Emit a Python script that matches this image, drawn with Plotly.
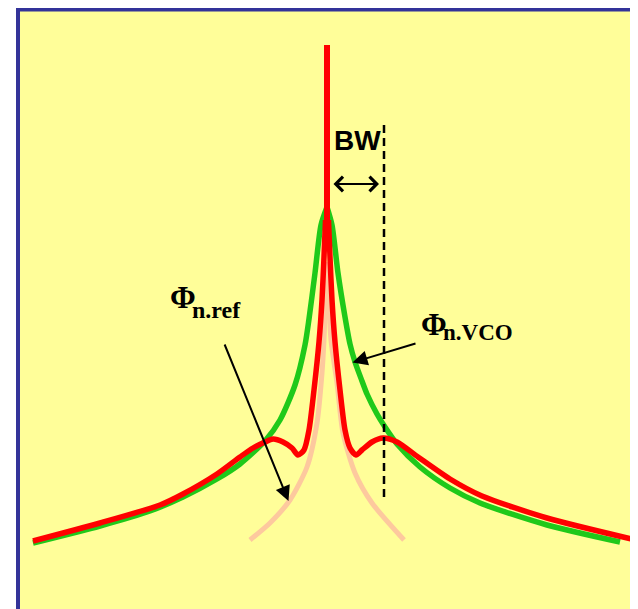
import plotly.graph_objects as go

# ---- data (offset from carrier, noise level) ----
green_left_offset = [-294, -227, -177, -144, -110, -87, -62, -47, -32, -22, -18, -12, -6, 0]
green_left_level = [66, 83, 98, 112, 130, 145, 168, 189, 224, 264, 290, 336, 384, 402]
green_right_offset = [0, 5, 11, 18, 23, 28, 35, 40, 50, 58, 70, 93, 123, 153, 220, 293]
green_right_level = [402, 384, 336, 292, 265, 247, 228, 215, 195, 182, 165, 142, 121, 106, 84, 67]

red_left_offset = [-294, -227, -167, -144, -110, -87, -74, -62, -54, -44, -35, -29, -23, -18, -13, -8, -5, -3, -1.5]
red_left_level = [68, 86, 104, 115, 135, 152, 161, 167, 170, 167, 161, 154, 159, 179, 219, 267, 309, 352, 389]
red_right_offset = [1.5, 3, 5, 8, 13, 18, 23, 29, 35, 45, 56, 70, 91, 123, 155, 220, 313]
red_right_level = [389, 352, 309, 267, 219, 179, 161, 154, 159, 167, 171, 167, 152, 130, 113, 91, 68]
spike_offset = [0, 0]
spike_level = [564, 359]

ref_left_offset = [-77, -57, -37, -20, -10, -5, -3, 0]
ref_left_level = [69, 86, 109, 142, 186, 236, 269, 347]
ref_right_offset = [0, 4, 10, 16, 28, 45, 77]
ref_right_level = [347, 269, 226, 176, 136, 106, 69]

bw_offset = 57
bw_line_level = [484, 109]
bw_arrow_from = 5
bw_arrow_level = 425

RED = "#FF0000"
GREEN = "#1FC91A"
PEACH = "#FDC99E"

fig = go.Figure()

def add_line(x, y, color, width, shape="spline", dash=None, smoothing=0.7):
    fig.add_trace(go.Scatter(x=x, y=y, mode="lines",
                             line=dict(color=color, width=width, shape=shape,
                                       smoothing=smoothing, dash=dash),
                             hoverinfo="skip", showlegend=False))

add_line(ref_left_offset, ref_left_level, PEACH, 5)
add_line(ref_right_offset, ref_right_level, PEACH, 5)
add_line(green_left_offset, green_left_level, GREEN, 5.5)
add_line(green_right_offset, green_right_level, GREEN, 5.5)
add_line(red_left_offset, red_left_level, RED, 5.5)
add_line(red_right_offset, red_right_level, RED, 5.5)
add_line(spike_offset, spike_level, RED, 6, shape="linear")
add_line([bw_offset, bw_offset], bw_line_level, "black", 2.5, shape="linear", dash="8px,5px")

# panel background with border
fig.add_shape(type="rect", xref="x", yref="y", x0=-309, y0=599.5, x1=400, y1=-60,
              line=dict(color="#333399", width=4), fillcolor="#FFFE99", layer="below")

annotations = [
    # BW double arrow
    dict(x=bw_offset - 5, y=bw_arrow_level, ax=bw_arrow_from, ay=bw_arrow_level,
         xref="x", yref="y", axref="x", ayref="y", text="", showarrow=True,
         arrowhead=4, startarrowhead=4, arrowside="end+start", arrowwidth=2,
         arrowsize=1.4, startarrowsize=1.4, arrowcolor="black"),
    # phi ref arrow
    dict(x=-38.5, y=108, ax=-103, ay=266, xref="x", yref="y", axref="x", ayref="y",
         text="", showarrow=True, arrowhead=2, arrowwidth=2, arrowsize=1.5,
         arrowcolor="black"),
    # phi vco arrow
    dict(x=25.5, y=246.5, ax=90, ay=266, xref="x", yref="y", axref="x", ayref="y",
         text="", showarrow=True, arrowhead=2, arrowwidth=2, arrowsize=1.5,
         arrowcolor="black"),
    dict(x=30, y=468.5, xref="x", yref="y", text="<b>BW</b>", showarrow=False,
         font=dict(family="Liberation Sans", size=28, color="black")),
    dict(x=-159, y=311.5, xref="x", yref="y", text="<b>Φ</b>", showarrow=False,
         xanchor="left", font=dict(family="Liberation Serif", size=31, color="black")),
    dict(x=-137, y=299, xref="x", yref="y", text="<b>n.ref</b>", showarrow=False,
         xanchor="left", font=dict(family="Liberation Serif", size=24, color="black")),
    dict(x=92, y=285, xref="x", yref="y", text="<b>Φ</b>", showarrow=False,
         xanchor="left", font=dict(family="Liberation Serif", size=31, color="black")),
    dict(x=114, y=276.5, xref="x", yref="y", text="<b>n.VCO</b>", showarrow=False,
         xanchor="left", font=dict(family="Liberation Serif", size=23, color="black")),
]

# the page adds an 8px body margin, so the figure starts at page pixel 8,8
fig.update_layout(
    width=638, height=601,
    margin=dict(l=0, r=0, t=0, b=0),
    paper_bgcolor="white", plot_bgcolor="white",
    xaxis=dict(range=[-319, 319], visible=False, fixedrange=True),
    yaxis=dict(range=[0, 601], visible=False, fixedrange=True),
    annotations=annotations,
    showlegend=False,
)

fig.write_html("out.html")
